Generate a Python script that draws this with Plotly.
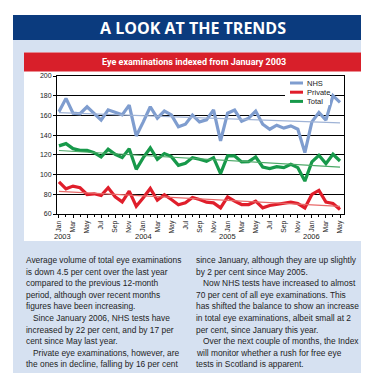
import numpy as np
import plotly.graph_objects as go

# ---------------- data ----------------
month_labels = ["Jan", "Feb", "Mar", "Apr", "May", "Jun", "Jul", "Aug", "Sep", "Oct", "Nov", "Dec"]
n_months = 41  # Jan 2003 .. May 2006
categories = [f"{month_labels[i % 12]} {2003 + i // 12}" for i in range(n_months)]
years = ["2003", "2004", "2005", "2006"]

nhs = [163.7, 177.3, 162.3, 161.7, 168.8, 162.3, 155.2, 165.7, 163.0, 160.6,
       170.5, 139.2, 153.5, 168.8, 157.2, 164.4, 160.6, 148.4, 151.1, 160.3,
       153.5, 155.5, 165.7, 134.2, 162.3, 165.4, 154.2, 157.2, 164.4, 151.1,
       146.0, 150.1, 147.1, 149.4, 146.0, 122.3, 153.5, 163.0, 155.2, 180.0,
       173.2]
private = [92.7, 85.6, 88.3, 86.6, 79.8, 80.5, 78.8, 86.6, 77.4, 72.3,
           83.2, 67.9, 76.4, 85.9, 74.0, 79.5, 74.7, 69.3, 71.3, 76.7,
           74.7, 72.0, 71.3, 66.2, 77.4, 73.0, 69.6, 69.6, 73.0, 66.2,
           68.6, 69.6, 70.6, 72.0, 70.6, 66.2, 79.8, 83.9, 72.0, 70.6,
           64.5]
total = [129.1, 131.4, 126.3, 124.6, 124.6, 122.3, 117.8, 125.7, 120.6, 117.2,
         126.3, 105.3, 117.2, 127.0, 115.5, 121.3, 118.2, 109.4, 111.4, 117.2,
         115.5, 113.4, 117.2, 100.9, 118.9, 118.9, 112.8, 113.1, 117.8, 107.7,
         106.0, 108.0, 107.0, 110.4, 107.0, 93.4, 112.8, 119.6, 111.1, 120.6,
         113.8]

y_ticks = [60, 80, 100, 120, 140, 160, 180, 200]

left_text = [
    (False, "Average volume of total eye examinations"),
    (False, "is down 4.5 per cent over the last year"),
    (False, "compared to the previous 12-month"),
    (False, "period, although over recent months"),
    (False, "figures have been increasing."),
    (True, "Since January 2006, NHS tests have"),
    (False, "increased by 22 per cent, and by 17 per"),
    (False, "cent since May last year."),
    (True, "Private eye examinations, however, are"),
    (False, "the ones in decline, falling by 16 per cent"),
]
right_text = [
    (False, "since January, although they are up slightly"),
    (False, "by 2 per cent since May 2005."),
    (True, "Now NHS tests have increased to almost"),
    (False, "70 per cent of all eye examinations. This"),
    (False, "has shifted the balance to show an increase"),
    (False, "in total eye examinations, albeit small at 2"),
    (False, "per cent, since January this year."),
    (True, "Over the next couple of months, the Index"),
    (False, "will monitor whether a rush for free eye"),
    (False, "tests in Scotland is apparent."),
]

# ---------------- layout geometry ----------------
W, H = 369, 373
L, R, T, B = 49, 336, 68, 206


def px(x):
    return (x - L) / (R - L)


def py(y):
    return (B - y) / (B - T)


x = np.arange(n_months)
colors = {"NHS": "#7f9dcf", "Private": "#e01e2b", "Total": "#17994a"}
trend_colors = {"NHS": "#9fb3d6", "Private": "#e86a6a", "Total": "#4aa866"}
FONT = "Liberation Sans, Arial, sans-serif"

fig = go.Figure()
series = [("NHS", nhs), ("Private", private), ("Total", total)]
for name, vals in series:
    fig.add_trace(go.Scatter(x=x, y=vals, mode="lines", name=name, showlegend=False,
                             line=dict(color=colors[name], width=3.2)))
for name, vals in series:
    k, c = np.polyfit(x, vals, 1)
    fig.add_trace(go.Scatter(x=x, y=k * x + c, mode="lines", showlegend=False,
                             hoverinfo="skip",
                             line=dict(color=trend_colors[name], width=1.2)))

shapes = [
    # light blue panel
    dict(type="rect", xref="paper", yref="paper", x0=px(5), x1=px(365), y0=py(32), y1=py(373),
         fillcolor="#d6e1f1", line=dict(width=0), layer="below"),
    # navy header
    dict(type="rect", xref="paper", yref="paper", x0=px(5), x1=px(365), y0=py(7), y1=py(32),
         fillcolor="#0b3b7e", line=dict(width=0), layer="below"),
    # white chart box
    dict(type="rect", xref="paper", yref="paper", x0=px(16), x1=px(355), y0=py(44.5), y1=py(233),
         fillcolor="white", line=dict(width=0), layer="below"),
    # red chart title bar
    dict(type="rect", xref="paper", yref="paper", x0=px(16), x1=px(355), y0=py(44.5), y1=py(63.5),
         fillcolor="#d81f2a", line=dict(width=0), layer="below"),
    # legend background
    dict(type="rect", xref="paper", yref="paper", x0=px(277), x1=px(322), y0=py(70), y1=py(97),
         fillcolor="white", line=dict(width=0), layer="above"),
]

annotations = [
    dict(text="<b>A LOOK AT THE TRENDS</b>", xref="paper", yref="paper", x=px(185), y=py(19.5),
         xanchor="center", yanchor="middle", showarrow=False,
         font=dict(family="Open Sans, Noto Sans, sans-serif", size=16, color="white")),
    dict(text="<b>Eye examinations indexed from January 2003</b>", xref="paper", yref="paper",
         x=px(186), y=py(54), xanchor="center", yanchor="middle", showarrow=False,
         font=dict(family="Roboto, Liberation Sans, sans-serif", size=9, color="white")),
]

# custom compact legend
for j, (name, _) in enumerate(series):
    ly = 75 + j * 9.2
    shapes.append(dict(type="line", xref="paper", yref="paper", x0=px(282), x1=px(295),
                       y0=py(ly), y1=py(ly), line=dict(color=colors[name], width=3),
                       layer="above"))
    annotations.append(dict(text=name, xref="paper", yref="paper", x=px(297), y=py(ly),
                            xanchor="left", yanchor="middle", showarrow=False,
                            font=dict(family=FONT, size=7.5, color="#222")))

for i, yr in enumerate(years):
    annotations.append(dict(text=yr, xref="x", yref="paper", x=12 * i, y=py(228),
                            xshift=4 if i == 0 else 0,
                            xanchor="center", yanchor="middle", showarrow=False,
                            font=dict(family=FONT, size=7.5, color="#222")))

line_h = 11.6
for col_x, lines in ((16, left_text), (186, right_text)):
    for j, (indent, txt) in enumerate(lines):
        annotations.append(dict(text=txt, xref="paper", yref="paper",
                                x=px(col_x + (7 if indent else 0)), y=py(252 + j * line_h),
                                xanchor="left", yanchor="middle", showarrow=False,
                                font=dict(family=FONT, size=8.4, color="#1e1e1e")))

fig.update_layout(
    width=W, height=H,
    margin=dict(l=L, r=W - R, t=T, b=H - B, pad=0),
    paper_bgcolor="white", plot_bgcolor="white",
    shapes=shapes, annotations=annotations,
    showlegend=False,
    xaxis=dict(range=[-0.28, 40.57], tickmode="array",
               tickvals=list(x[::2]), ticktext=[c.split()[0] for c in categories[::2]],
               tickangle=-90, ticks="outside", ticklen=3, tickcolor="black",
               showline=True, linecolor="black", linewidth=1, mirror=True,
               showgrid=False, zeroline=False,
               minor=dict(tickvals=list(x), ticks="outside", ticklen=2, tickcolor="black"),
               tickfont=dict(family=FONT, size=6.8, color="#222")),
    yaxis=dict(range=[60, 200], tickvals=y_ticks, ticks="outside", ticklen=3,
               tickcolor="black", showline=True, linecolor="black", linewidth=1, mirror=True,
               showgrid=True, gridcolor="black", gridwidth=1.2, zeroline=False,
               tickfont=dict(family=FONT, size=7, color="#222")),
)

fig.write_html("out.html")
